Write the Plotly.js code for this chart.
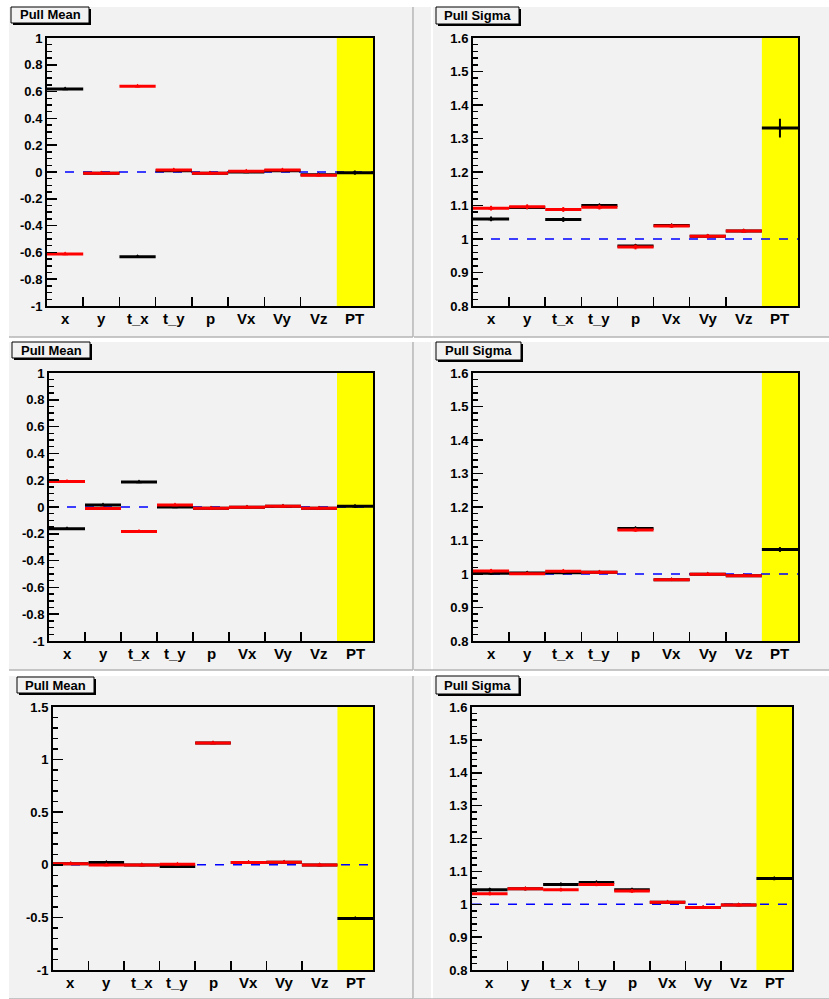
<!DOCTYPE html>
<html>
<head>
<meta charset="utf-8">
<script src="https://cdn.plot.ly/plotly-3.0.1.min.js"></script>
<style>html,body{margin:0;padding:0;background:#fff;}#chart{width:829px;height:999px;}</style>
</head>
<body>
<div id="chart"></div>
<script>
// ---------------- data ----------------
const categories = ['x','y','t_x','t_y','p','Vx','Vy','Vz','PT'];

// Panel titles
const panelTitles = ['Pull Mean','Pull Sigma','Pull Mean','Pull Sigma','Pull Mean','Pull Sigma'];

// Row 1
const mean1Black = [0.620, -0.010, -0.632, 0.010, -0.010, 0.000, 0.010, -0.020, -0.005];
const mean1BlackErr = [0.008, 0.006, 0.008, 0.006, 0.006, 0.006, 0.006, 0.006, 0.015];
const mean1Red = [-0.612, -0.010, 0.640, 0.015, -0.010, 0.005, 0.015, -0.025];
const mean1RedErr = [0.008, 0.008, 0.008, 0.008, 0.008, 0.008, 0.008, 0.008];

const sigma1Black = [1.060, 1.094, 1.058, 1.100, 0.979, 1.040, 1.008, 1.024, 1.331];
const sigma1BlackErr = [0.007, 0.005, 0.007, 0.005, 0.005, 0.005, 0.005, 0.005, 0.028];
const sigma1Red = [1.092, 1.096, 1.088, 1.095, 0.976, 1.039, 1.008, 1.024];
const sigma1RedErr = [0.007, 0.007, 0.007, 0.007, 0.007, 0.006, 0.006, 0.006];

// Row 2
const mean2Black = [-0.162, 0.015, 0.187, 0.000, -0.010, -0.002, 0.005, -0.010, 0.005];
const mean2BlackErr = [0.006, 0.006, 0.006, 0.006, 0.006, 0.006, 0.006, 0.006, 0.010];
const mean2Red = [0.190, -0.012, -0.182, 0.015, -0.010, -0.002, 0.005, -0.010];
const mean2RedErr = [0.006, 0.008, 0.006, 0.008, 0.006, 0.006, 0.006, 0.006];

const sigma2Black = [1.002, 1.003, 1.004, 1.005, 1.136, 0.983, 0.999, 0.995, 1.073];
const sigma2BlackErr = [0.005, 0.004, 0.005, 0.004, 0.005, 0.004, 0.004, 0.004, 0.007];
const sigma2Red = [1.009, 1.001, 1.008, 1.005, 1.131, 0.983, 0.999, 0.995];
const sigma2RedErr = [0.005, 0.004, 0.005, 0.004, 0.005, 0.004, 0.004, 0.004];

// Row 3
const mean3Black = [0.010, 0.022, -0.003, -0.016, 1.158, 0.022, 0.025, -0.003, -0.510];
const mean3BlackErr = [0.010, 0.010, 0.010, 0.010, 0.010, 0.010, 0.010, 0.010, 0.012];
const mean3Red = [0.010, -0.003, -0.003, 0.006, 1.158, 0.022, 0.025, -0.003];
const mean3RedErr = [0.010, 0.010, 0.010, 0.010, 0.010, 0.010, 0.010, 0.010];

const sigma3Black = [1.044, 1.047, 1.060, 1.066, 1.044, 1.006, 0.990, 0.998, 1.078];
const sigma3BlackErr = [0.005, 0.005, 0.005, 0.005, 0.005, 0.004, 0.004, 0.004, 0.005];
const sigma3Red = [1.032, 1.047, 1.044, 1.060, 1.040, 1.006, 0.990, 0.998];
const sigma3RedErr = [0.005, 0.005, 0.005, 0.005, 0.005, 0.004, 0.004, 0.004];

// Y axes: ranges, tick values and tick labels
const meanRange = [-1, 1];
const meanTicks = [-1, -0.8, -0.6, -0.4, -0.2, 0, 0.2, 0.4, 0.6, 0.8, 1];
const meanTickText = ['-1','-0.8','-0.6','-0.4','-0.2','0','0.2','0.4','0.6','0.8','1'];
const mean3Range = [-1, 1.5];
const mean3Ticks = [-1, -0.5, 0, 0.5, 1, 1.5];
const mean3TickText = ['-1','-0.5','0','0.5','1','1.5'];
const sigmaRange = [0.8, 1.6];
const sigmaTicks = [0.8, 0.9, 1.0, 1.1, 1.2, 1.3, 1.4, 1.5, 1.6];
const sigmaTickText = ['0.8','0.9','1','1.1','1.2','1.3','1.4','1.5','1.6'];

// reference levels (dashed blue lines)
const meanRef = 0;
const sigmaRef = 1;

// ---------------- layout helpers ----------------
const W = 829, H = 999;
const px = v => v / W;
const py = v => 1 - v / H;

const panels = [
  {black: mean1Black, blackErr: mean1BlackErr, red: mean1Red, redErr: mean1RedErr,
   range: meanRange, ticks: meanTicks, ticktext: meanTickText, minor: 0.05, ref: meanRef,
   box: [47, 373, 38, 306], title: [11, 89, 7, 23]},
  {black: sigma1Black, blackErr: sigma1BlackErr, red: sigma1Red, redErr: sigma1RedErr,
   range: sigmaRange, ticks: sigmaTicks, ticktext: sigmaTickText, minor: 0.02, ref: sigmaRef,
   box: [473, 798, 38, 306], title: [436, 519, 7, 24]},
  {black: mean2Black, blackErr: mean2BlackErr, red: mean2Red, redErr: mean2RedErr,
   range: meanRange, ticks: meanTicks, ticktext: meanTickText, minor: 0.05, ref: meanRef,
   box: [49, 373, 373, 641], title: [12, 90, 342, 358]},
  {black: sigma2Black, blackErr: sigma2BlackErr, red: sigma2Red, redErr: sigma2RedErr,
   range: sigmaRange, ticks: sigmaTicks, ticktext: sigmaTickText, minor: 0.02, ref: sigmaRef,
   box: [473, 798, 373, 641], title: [436, 521, 342, 360]},
  {black: mean3Black, blackErr: mean3BlackErr, red: mean3Red, redErr: mean3RedErr,
   range: mean3Range, ticks: mean3Ticks, ticktext: mean3TickText, minor: 0.1, ref: meanRef,
   box: [53, 373, 707, 970], title: [17, 94, 677, 693]},
  {black: sigma3Black, blackErr: sigma3BlackErr, red: sigma3Red, redErr: sigma3RedErr,
   range: sigmaRange, ticks: sigmaTicks, ticktext: sigmaTickText, minor: 0.02, ref: sigmaRef,
   box: [472, 792, 707, 970], title: [436, 519, 676, 694]}
];

const centers = categories.map((c, i) => i + 0.5);
const ptIndex = categories.indexOf('PT');
// bin-edge tick marks (the edge at the PT band is hidden by the yellow fill)
const edges = categories.slice(1).map((c, i) => i + 1).filter(e => e < ptIndex);

const FONT = 'Liberation Sans, Arial, Helvetica, sans-serif';
const BG = '#f2f2f2';

const traces = [];
const layout = {
  width: W, height: H,
  margin: {l: 0, r: 0, t: 0, b: 0},
  paper_bgcolor: '#ffffff',
  plot_bgcolor: BG,
  showlegend: false,
  font: {family: FONT, color: '#000'},
  shapes: [],
  annotations: []
};

// pads (canvas divisions)
const padRows = [[7, 337], [342, 670], [676, 999]];
padRows.forEach(([t, b]) => {
  layout.shapes.push({type: 'rect', xref: 'paper', yref: 'paper', layer: 'below',
    x0: px(9), x1: px(413), y0: py(b), y1: py(t), fillcolor: BG, line: {width: 0}});
  layout.shapes.push({type: 'line', xref: 'paper', yref: 'paper', layer: 'below',
    x0: px(413), x1: px(413), y0: py(b), y1: py(t), line: {color: '#b4b4b4', width: 1.5}});
  layout.shapes.push({type: 'line', xref: 'paper', yref: 'paper', layer: 'below',
    x0: px(9), x1: px(413), y0: py(b), y1: py(b), line: {color: '#b4b4b4', width: 1.5}});
  layout.shapes.push({type: 'rect', xref: 'paper', yref: 'paper', layer: 'below',
    x0: px(414), x1: px(829), y0: py(b), y1: py(t), fillcolor: BG, line: {width: 0}});
  layout.shapes.push({type: 'line', xref: 'paper', yref: 'paper', layer: 'below',
    x0: px(432), x1: px(432), y0: py(b), y1: py(t), line: {color: '#ffffff', width: 2}});
  layout.shapes.push({type: 'line', xref: 'paper', yref: 'paper', layer: 'below',
    x0: px(414), x1: px(829), y0: py(b), y1: py(b), line: {color: '#b4b4b4', width: 1.5}});
});

panels.forEach((P, k) => {
  const n = k + 1;
  const xa = n === 1 ? 'x' : 'x' + n;
  const ya = n === 1 ? 'y' : 'y' + n;
  const xkey = n === 1 ? 'xaxis' : 'xaxis' + n;
  const ykey = n === 1 ? 'yaxis' : 'yaxis' + n;
  const [l, r, t, b] = P.box;

  // x axis: tick marks at bin edges, labels (annotations) at bin centres
  layout[xkey] = {
    domain: [px(l), px(r)], anchor: ya, range: [0, categories.length],
    tickmode: 'array', tickvals: edges, ticktext: edges.map(() => ''),
    ticks: 'inside', ticklen: 9, tickwidth: 1.5, tickcolor: '#000',
    showgrid: false, zeroline: false,
    showline: true, linecolor: '#000', linewidth: 2, mirror: true,
    fixedrange: true
  };
  layout[ykey] = {
    domain: [py(b), py(t)], anchor: xa, range: P.range,
    tickmode: 'array', tickvals: P.ticks, ticktext: P.ticktext,
    ticks: 'inside', ticklen: 10, tickwidth: 1.5, tickcolor: '#000',
    showgrid: false, zeroline: false,
    showline: true, linecolor: '#000', linewidth: 2, mirror: true,
    tickfont: {family: FONT, size: 13, weight: 'bold', color: '#000'},
    minor: {tickmode: 'linear', tick0: P.range[0], dtick: P.minor, ticks: 'inside',
            ticklen: 5, tickwidth: 1.5, tickcolor: '#000', showgrid: false},
    fixedrange: true
  };

  categories.forEach((c, i) => {
    layout.annotations.push({xref: xa, yref: ya + ' domain', x: centers[i], y: 0,
      yanchor: 'top', xanchor: 'center', yshift: -2, showarrow: false, text: c,
      font: {family: FONT, size: 15, weight: 'bold', color: '#000'}});
  });

  // yellow PT band
  layout.shapes.push({type: 'rect', xref: xa, yref: ya + ' domain', layer: 'below',
    x0: ptIndex, x1: ptIndex + 1, y0: 0, y1: 1, fillcolor: '#ffff00', line: {width: 0}});
  // dashed reference line
  layout.shapes.push({type: 'line', xref: xa + ' domain', yref: ya, layer: 'below',
    x0: 0, x1: 1, y0: P.ref, y1: P.ref, line: {color: '#0000ff', width: 1.5, dash: 'dash'}});

  // title box: shadow + box + text
  const [tl, tr, tt, tb] = P.title;
  layout.shapes.push({type: 'rect', xref: 'paper', yref: 'paper', layer: 'above',
    x0: px(tl + 2), x1: px(tr + 2), y0: py(tb + 2), y1: py(tt + 2), fillcolor: '#000', line: {width: 0}});
  layout.shapes.push({type: 'rect', xref: 'paper', yref: 'paper', layer: 'above',
    x0: px(tl), x1: px(tr), y0: py(tb), y1: py(tt), fillcolor: BG, line: {color: '#000', width: 1}});
  layout.annotations.push({xref: 'paper', yref: 'paper', x: px((tl + tr) / 2), y: py((tt + tb) / 2),
    text: panelTitles[k], showarrow: false, xanchor: 'center', yanchor: 'middle',
    font: {family: FONT, size: 13, weight: 'bold', color: '#000'}});

  // black series (drawn first)
  traces.push({
    type: 'scatter', mode: 'markers', xaxis: xa, yaxis: ya,
    x: centers.slice(0, P.black.length), y: P.black,
    marker: {symbol: 'triangle-up', size: 5, color: '#000'},
    error_x: {type: 'constant', value: 0.5, thickness: 3, width: 0, color: '#000'},
    error_y: {type: 'data', array: P.blackErr, thickness: 2, width: 0, color: '#000'},
    hoverinfo: 'skip', cliponaxis: false
  });
  // red series
  traces.push({
    type: 'scatter', mode: 'markers', xaxis: xa, yaxis: ya,
    x: centers.slice(0, P.red.length), y: P.red,
    marker: {symbol: 'triangle-up', size: 5, color: '#ff0000'},
    error_x: {type: 'constant', value: 0.5, thickness: 3, width: 0, color: '#ff0000'},
    error_y: {type: 'data', array: P.redErr, thickness: 2, width: 0, color: '#ff0000'},
    hoverinfo: 'skip', cliponaxis: false
  });
});

Plotly.newPlot('chart', traces, layout, {staticPlot: true, displayModeBar: false});
</script>
</body>
</html>
